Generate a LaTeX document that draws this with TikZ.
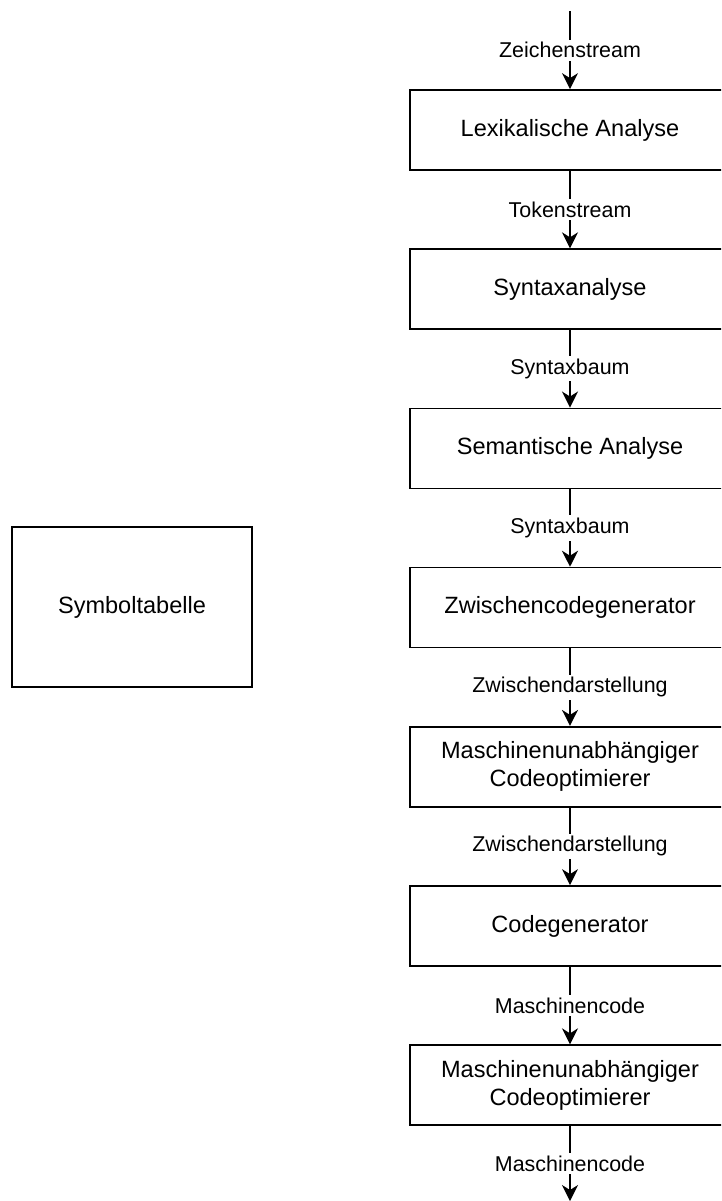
\documentclass[tikz,border=0pt]{standalone}
\usepackage{fontspec}
\setmainfont{Liberation Sans}
\usetikzlibrary{arrows.meta}

\begin{document}
\begin{tikzpicture}[
x=0.02cm, y=-0.02cm,
phase/.style={draw, line width=1pt, minimum width=6.4cm, minimum height=1.6cm, align=center, font=\fontsize{13.4}{16}\selectfont},
lbl/.style={fill=white, inner sep=1.5pt, font=\fontsize{12.2}{14}\selectfont},
flow/.style={line width=0.9pt, -{Stealth[length=0.32cm, width=0.32cm, inset=0.1cm]}}
]
    % Page frame
    \useasboundingbox (0,0) rectangle (721,1201);
    \clip (0,0) rectangle (721,1201);

    \coordinate (in) at (570,11);
    \coordinate (out) at (570,1201);

    \node[phase] (lex)  at (570,130)    {Lexikalische Analyse};
    \node[phase] (syn)  at (570,289.2)  {Syntaxanalyse};
    \node[phase] (sem)  at (570,448.4)  {Semantische Analyse};
    \node[phase] (zwi)  at (570,607.6)  {Zwischencodegenerator};
    \node[phase] (opt1) at (570,766.8)  {Maschinenunabhängiger\\Codeoptimierer};
    \node[phase] (gen)  at (570,926)    {Codegenerator};
    \node[phase] (opt2) at (570,1085.2) {Maschinenunabhängiger\\Codeoptimierer};

    \node[phase, minimum width=4.8cm, minimum height=3.2cm] (symtab) at (132,607) {Symboltabelle};

    % Stream between phases
    \draw[flow] (in)   -- node[lbl]{Zeichenstream} (lex);
    \draw[flow] (lex)  -- node[lbl]{Tokenstream} (syn);
    \draw[flow] (syn)  -- node[lbl]{Syntaxbaum} (sem);
    \draw[flow] (sem)  -- node[lbl]{Syntaxbaum} (zwi);
    \draw[flow] (zwi)  -- node[lbl]{Zwischendarstellung} (opt1);
    \draw[flow] (opt1) -- node[lbl]{Zwischendarstellung} (gen);
    \draw[flow] (gen)  -- node[lbl]{Maschinencode} (opt2);
    \draw[flow] (opt2) -- node[lbl]{Maschinencode} (out);

\end{tikzpicture}
\end{document}
